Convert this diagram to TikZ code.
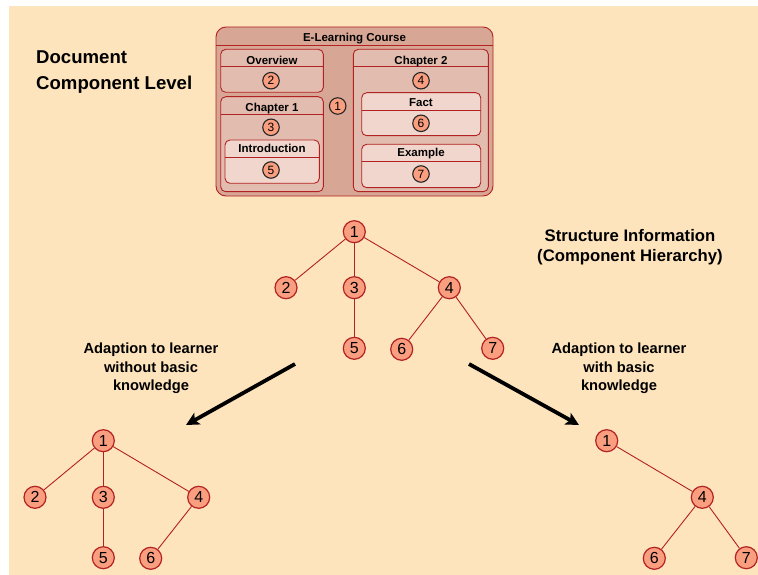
\documentclass[tikz,border=0pt]{standalone}
\usepackage{fontspec}
\setmainfont{Liberation Sans}
\usetikzlibrary{arrows.meta}
\definecolor{bg}{RGB}{254,228,188}
\definecolor{boxred}{RGB}{178,34,34}
\definecolor{outerfill}{RGB}{216,166,148}
\definecolor{midfill}{RGB}{226,188,174}
\definecolor{innerfill}{RGB}{240,214,204}
\definecolor{nodefill}{RGB}{250,158,128}
\tikzset{
  boxshape/.style={draw=boxred, line width=0.9pt, rounded corners=5pt},
  sepline/.style={draw=boxred, line width=0.9pt},
  boxtitle/.style={font=\bfseries\fontsize{11.5}{13}\selectfont, inner sep=0pt, text height=8.3pt, text depth=2.4pt},
  sn/.style={circle, draw=black!85, fill=nodefill, line width=1.1pt, minimum size=16.5pt, inner sep=0pt, font=\fontsize{12}{13}\selectfont},
  tn/.style={circle, draw=boxred, fill=nodefill, line width=1.2pt, minimum size=22pt, inner sep=0pt, font=\fontsize{16}{18}\selectfont},
  tedge/.style={draw=boxred, line width=0.9pt},
  bigarrow/.style={line width=3.8pt, -{Stealth[length=13pt, width=13pt, inset=3pt]}},
  label/.style={font=\bfseries\fontsize{14.7}{18.5}\selectfont, align=center, inner sep=0pt}
}
\begin{document}
\begin{tikzpicture}[x=1pt,y=-1pt]
\useasboundingbox (0,0) rectangle (758,575);
\fill[white] (0,0) rectangle (758,575);
\fill[bg] (9,6) rectangle (758,575);

% headings
\node[font=\bfseries\fontsize{18.6}{26}\selectfont, align=left, anchor=west, inner sep=0pt] (doclevel) at (36,72.5) {Document\\Component Level};
\node[font=\bfseries\fontsize{16.7}{20}\selectfont, align=center, inner sep=0pt] (structinfo) at (630,247.5) {Structure Information\\(Component Hierarchy)};

% outer course box
\draw[boxshape, rounded corners=10pt, fill=outerfill] (216,27) rectangle (493,196);
\draw[sepline] (216,45) -- (493,45);
\node[boxtitle] (tcourse) at (354.5,39) {E-Learning Course};
\node[sn] (c1) at (337.7,106) {1};

% overview
\draw[boxshape, fill=midfill] (220.7,49.3) rectangle (323.3,92.3);
\draw[sepline] (220.7,66.7) -- (323.3,66.7);
\node[boxtitle] (tover) at (272,61.3) {Overview};
\node[sn] (c2) at (271,80.7) {2};

% chapter 1
\draw[boxshape, fill=midfill] (220.7,96.7) rectangle (323.3,191.7);
\draw[sepline] (220.7,114.3) -- (323.3,114.3);
\node[boxtitle] (tch1) at (272,108.3) {Chapter 1};
\node[sn] (c3) at (271,127.3) {3};
\draw[boxshape, fill=innerfill] (225,140) rectangle (319.3,183.3);
\draw[sepline] (225,157.3) -- (319.3,157.3);
\node[boxtitle] (tintro) at (272,149.7) {Introduction};
\node[sn] (c5) at (271,170) {5};

% chapter 2
\draw[boxshape, fill=midfill] (353.3,49.3) rectangle (488.3,191.7);
\draw[sepline] (353.3,66.7) -- (488.3,66.7);
\node[boxtitle] (tch2) at (421,61.3) {Chapter 2};
\node[sn] (c4) at (421,80.7) {4};
\draw[boxshape, fill=innerfill] (361.7,92.7) rectangle (480.7,135.7);
\draw[sepline] (361.7,110) -- (480.7,110);
\node[boxtitle] (tfact) at (421,104) {Fact};
\node[sn] (c6) at (421,123.3) {6};
\draw[boxshape, fill=innerfill] (361.7,144.3) rectangle (480.7,187.7);
\draw[sepline] (361.7,161.7) -- (480.7,161.7);
\node[boxtitle] (texample) at (421,154) {Example};
\node[sn] (c7) at (421,174) {7};

% top tree
\node[tn] (a1) at (354.3,231.7) {1};
\node[tn] (a2) at (286,287.7) {2};
\node[tn] (a3) at (354.3,287.7) {3};
\node[tn] (a4) at (449.3,287.7) {4};
\node[tn] (a5) at (354.3,348.3) {5};
\node[tn] (a6) at (401.7,349.3) {6};
\node[tn] (a7) at (492.7,348.3) {7};
\draw[tedge] (a1) -- (a2);
\draw[tedge] (a1) -- (a3);
\draw[tedge] (a1) -- (a4);
\draw[tedge] (a3) -- (a5);
\draw[tedge] (a4) -- (a6);
\draw[tedge] (a4) -- (a7);

% arrows and labels
\coordinate (l0) at (295,364);
\coordinate (l1) at (186,425);
\coordinate (r0) at (469,364);
\coordinate (r1) at (579,425);
\draw[bigarrow] (l0) -- (l1);
\draw[bigarrow] (r0) -- (r1);
\node[label] (lleft) at (151,368.5) {Adaption to learner\\without basic\\knowledge};
\node[label] (lright) at (619,368.5) {Adaption to learner\\with basic\\knowledge};

% bottom-left tree
\node[tn] (b1) at (103.3,440.7) {1};
\node[tn] (b2) at (35,497.3) {2};
\node[tn] (b3) at (103.3,497.3) {3};
\node[tn] (b4) at (198.7,497.3) {4};
\node[tn] (b5) at (103.3,557.7) {5};
\node[tn] (b6) at (150.7,558.3) {6};
\draw[tedge] (b1) -- (b2);
\draw[tedge] (b1) -- (b3);
\draw[tedge] (b1) -- (b4);
\draw[tedge] (b3) -- (b5);
\draw[tedge] (b4) -- (b6);

% bottom-right tree
\node[tn] (d1) at (606.7,440.7) {1};
\node[tn] (d4) at (702.3,497.3) {4};
\node[tn] (d6) at (654.3,558.3) {6};
\node[tn] (d7) at (746.3,557.7) {7};
\draw[tedge] (d1) -- (d4);
\draw[tedge] (d4) -- (d6);
\draw[tedge] (d4) -- (d7);
\end{tikzpicture}
\end{document}
